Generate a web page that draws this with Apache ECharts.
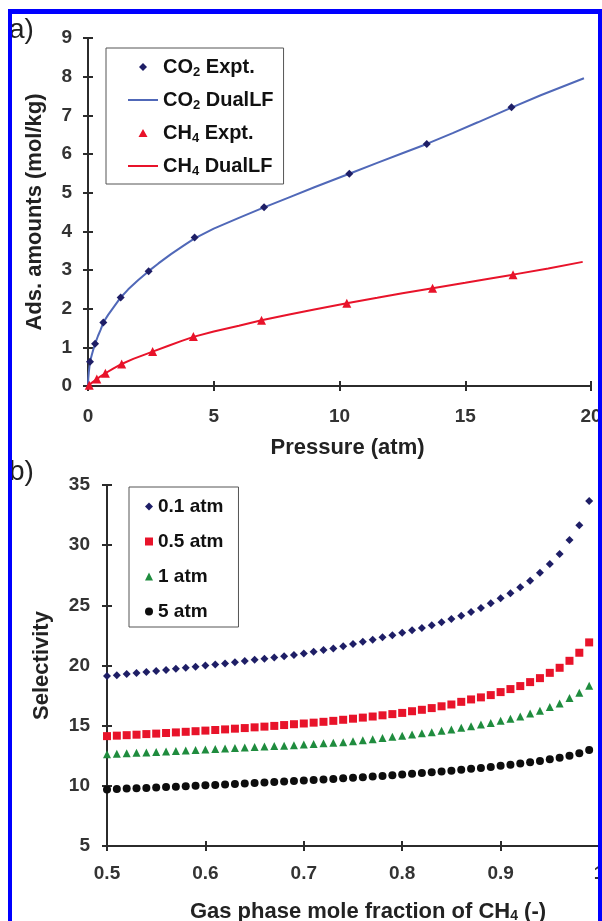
<!DOCTYPE html>
<html>
<head>
<meta charset="utf-8">
<script src="https://cdn.jsdelivr.net/npm/echarts@6/dist/echarts.min.js"></script>
<style>
html,body{margin:0;padding:0;background:#fff;}
#chart{width:602px;height:921px;}
</style>
</head>
<body>
<div id="chart"></div>
<script>
// ---------- Panel a data ----------
const co2ExptP = [0.08, 0.28, 0.61, 1.3, 2.41, 4.24, 7.0, 10.39, 13.47, 16.84];
const co2ExptQ = [0.63, 1.09, 1.64, 2.29, 2.97, 3.84, 4.62, 5.49, 6.26, 7.21];
const co2FitP = [0, 0.01, 0.03, 0.06, 0.1, 0.15, 0.2, 0.28, 0.4, 0.5, 0.61, 0.8, 1.0, 1.3, 1.6, 2.0, 2.41, 2.8, 3.3, 3.8, 4.24, 5, 6, 7, 8, 9, 10.39, 11.5, 12.5, 13.47, 14.5, 15.5, 16.84, 18, 19.72];
const co2FitQ = [0, 0.18, 0.34, 0.52, 0.68, 0.8, 0.92, 1.09, 1.3, 1.45, 1.64, 1.84, 2.02, 2.29, 2.5, 2.74, 2.97, 3.17, 3.41, 3.63, 3.82, 4.07, 4.35, 4.62, 4.88, 5.14, 5.49, 5.77, 6.02, 6.26, 6.54, 6.82, 7.2, 7.52, 7.96];
const ch4ExptP = [0.05, 0.35, 0.69, 1.34, 2.57, 4.19, 6.9, 10.29, 13.7, 16.9];
const ch4ExptQ = [0.02, 0.18, 0.33, 0.57, 0.89, 1.28, 1.70, 2.14, 2.53, 2.88];
const ch4FitP = [0, 0.1, 0.2, 0.35, 0.5, 0.69, 1.0, 1.34, 1.8, 2.2, 2.57, 3.2, 3.7, 4.19, 5, 6, 6.9, 8, 9, 10.29, 11.5, 12.5, 13.7, 15, 16, 16.9, 18.3, 19.67];
const ch4FitQ = [0, 0.055, 0.11, 0.18, 0.25, 0.33, 0.45, 0.57, 0.7, 0.8, 0.89, 1.04, 1.16, 1.27, 1.41, 1.56, 1.70, 1.85, 1.98, 2.14, 2.28, 2.4, 2.53, 2.67, 2.78, 2.88, 3.04, 3.21];

// ---------- Panel b data ----------
const moleFraction = [0.50,0.51,0.52,0.53,0.54,0.55,0.56,0.57,0.58,0.59,
  0.60,0.61,0.62,0.63,0.64,0.65,0.66,0.67,0.68,0.69,
  0.70,0.71,0.72,0.73,0.74,0.75,0.76,0.77,0.78,0.79,
  0.80,0.81,0.82,0.83,0.84,0.85,0.86,0.87,0.88,0.89,
  0.90,0.91,0.92,0.93,0.94,0.95,0.96,0.97,0.98,0.99];
const sel01 = [19.12,19.2,19.29,19.37,19.46,19.55,19.63,19.72,19.81,19.9,
  19.99,20.08,20.17,20.27,20.37,20.47,20.57,20.67,20.77,20.88,
  21.0,21.14,21.28,21.42,21.6,21.78,21.97,22.15,22.35,22.52,
  22.72,22.92,23.12,23.34,23.59,23.86,24.14,24.44,24.78,25.17,
  25.58,26.0,26.5,27.05,27.71,28.44,29.27,30.43,31.65,33.68];
const sel05 = [14.13,14.17,14.21,14.25,14.3,14.34,14.39,14.44,14.49,14.54,
  14.59,14.64,14.69,14.75,14.8,14.86,14.92,14.98,15.05,15.12,
  15.18,15.25,15.32,15.4,15.49,15.58,15.67,15.76,15.86,15.96,
  16.06,16.2,16.32,16.46,16.61,16.76,16.98,17.18,17.35,17.54,
  17.79,18.04,18.29,18.62,18.95,19.39,19.81,20.39,21.06,21.92];
const sel1 = [12.62,12.66,12.7,12.74,12.78,12.82,12.86,12.9,12.94,12.98,
  13.02,13.06,13.1,13.14,13.18,13.22,13.26,13.3,13.34,13.38,
  13.43,13.48,13.53,13.58,13.63,13.71,13.79,13.88,13.97,14.07,
  14.16,14.26,14.36,14.46,14.57,14.68,14.82,14.96,15.1,15.23,
  15.4,15.57,15.77,16.01,16.23,16.56,16.85,17.29,17.73,18.31];
const sel5 = [9.7,9.73,9.77,9.8,9.83,9.86,9.9,9.93,9.97,10.0,
  10.04,10.07,10.11,10.15,10.19,10.23,10.27,10.31,10.35,10.4,
  10.44,10.48,10.53,10.57,10.62,10.67,10.72,10.77,10.82,10.88,
  10.94,11.0,11.06,11.12,11.19,11.26,11.33,11.41,11.49,11.57,
  11.66,11.75,11.85,11.96,12.07,12.2,12.34,12.5,12.7,12.97];

const pair = (xs, ys) => xs.map((x, i) => [x, ys[i]]);

const FONT = "'Liberation Sans', Arial, sans-serif";
const AX = '#2b2b2b';
const LBL = '#333';
const NAVY = '#1e1e66', RED = '#e8132a', GREEN = '#1f8c3e', BLACK = '#0d0d0d', LBLUE = '#5068b8';

function mainAxis(gridIndex, pos, min, max, interval, margin, name, nameGap, namePad) {
  const a = {
    type: 'value', gridIndex, position: pos, min, max, interval,
    axisLine: { show: true, onZero: false, lineStyle: { color: AX, width: 2 } },
    axisTick: { show: true, inside: false, length: 5, lineStyle: { color: AX, width: 2 } },
    axisLabel: { color: LBL, fontFamily: FONT, fontWeight: 'bold', fontSize: 19, margin },
    splitLine: { show: false },
    name, nameLocation: 'middle', nameGap,
    nameTextStyle: {
      color: '#222', fontFamily: FONT, fontWeight: 'bold', fontSize: 22, padding: namePad,
      rich: { s: { color: '#222', fontFamily: FONT, fontWeight: 'bold', fontSize: 14, verticalAlign: 'bottom', lineHeight: 14 } }
    }
  };
  if (pos === 'left') a.nameRotate = 90;
  return a;
}
function innerAxis(gridIndex, pos, min, max, interval) {
  return {
    type: 'value', gridIndex, position: pos, min, max, interval,
    axisLine: { show: false, onZero: false },
    axisTick: { show: true, inside: true, length: 5, lineStyle: { color: AX, width: 2 } },
    axisLabel: { show: false },
    splitLine: { show: false }
  };
}

const richLegend = {
  n: { fontSize: 20, fontWeight: 'bold', fontFamily: FONT, color: '#111', lineHeight: 24 },
  s: { fontSize: 13, fontWeight: 'bold', fontFamily: FONT, color: '#111', lineHeight: 14, verticalAlign: 'bottom' }
};

const ICON_DIAMOND = 'path://M4,0 L8,4 L4,8 L0,4 Z';
const ICON_TRIANGLE = 'path://M4.5,0 L9,8 L0,8 Z';
const ICON_LINE = 'path://M0,0 L30,0 L30,2 L0,2 Z';

const option = {
  animation: false,
  backgroundColor: '#fff',
  grid: [
    { left: 88, top: 38, width: 503, height: 348, containLabel: false, outerBoundsMode: 'none' },
    { left: 107, top: 485, width: 492, height: 361, containLabel: false, outerBoundsMode: 'none' }
  ],
  xAxis: [
    mainAxis(0, 'bottom', 0, 20, 5, 21, 'Pressure (atm)', 51, [0, 0, 0, 16]),
    innerAxis(0, 'bottom', 0, 20, 5),
    mainAxis(1, 'bottom', 0.5, 1, 0.1, 18, 'Gas phase mole fraction of CH{s|4} (-)', 55, [0, 0, 0, 30]),
    innerAxis(1, 'bottom', 0.5, 1, 0.1)
  ],
  yAxis: [
    mainAxis(0, 'left', 0, 9, 1, 16, 'Ads. amounts (mol/kg)', 42, 0),
    innerAxis(0, 'left', 0, 9, 1),
    mainAxis(1, 'left', 5, 35, 5, 17, 'Selectivity', 54, 0),
    innerAxis(1, 'left', 5, 35, 5)
  ],
  legend: [
    {
      data: [
        { name: 'CO2 Expt.', icon: ICON_DIAMOND, itemStyle: { color: NAVY } },
        { name: 'CO2 DualLF', icon: ICON_LINE, itemStyle: { color: LBLUE } },
        { name: 'CH4 Expt.', icon: ICON_TRIANGLE, itemStyle: { color: RED } },
        { name: 'CH4 DualLF', icon: ICON_LINE, itemStyle: { color: RED } }
      ],
      orient: 'vertical', left: 106, top: 48,
      padding: [9, 10, 6, 22],
      itemWidth: 30, itemHeight: 8, itemGap: 11,
      symbolKeepAspect: true,
      borderColor: '#555', borderWidth: 1,
      formatter: name => {
        const m = name.match(/^(C[OH])(\d)(.*)$/);
        return '{n|' + m[1] + '}{s|' + m[2] + '}{n|' + m[3] + '}';
      },
      textStyle: { fontFamily: FONT, fontSize: 20, fontWeight: 'bold', color: '#111', rich: richLegend }
    },
    {
      data: ['0.1 atm', '0.5 atm', '1 atm', '5 atm'],
      orient: 'vertical', left: 129, top: 487,
      padding: [10, 15, 6, 16],
      itemWidth: 8, itemHeight: 8, itemGap: 16,
      symbolKeepAspect: true,
      borderColor: '#555', borderWidth: 1,
      textStyle: { fontFamily: FONT, fontSize: 19, fontWeight: 'bold', color: '#111' }
    }
  ],
  series: [
    { name: 'CO2 Expt.', type: 'scatter', xAxisIndex: 0, yAxisIndex: 0, symbol: 'diamond', symbolSize: 8,
      itemStyle: { color: NAVY, opacity: 1 }, z: 5, data: pair(co2ExptP, co2ExptQ) },
    { name: 'CO2 DualLF', type: 'line', xAxisIndex: 0, yAxisIndex: 0, symbol: 'none', smooth: false,
      lineStyle: { color: LBLUE, width: 2 }, itemStyle: { color: LBLUE }, z: 3, data: pair(co2FitP, co2FitQ) },
    { name: 'CH4 Expt.', type: 'scatter', xAxisIndex: 0, yAxisIndex: 0, symbol: 'triangle', symbolSize: 9,
      itemStyle: { color: RED, opacity: 1 }, z: 5, data: pair(ch4ExptP, ch4ExptQ) },
    { name: 'CH4 DualLF', type: 'line', xAxisIndex: 0, yAxisIndex: 0, symbol: 'none', smooth: false,
      lineStyle: { color: RED, width: 2 }, itemStyle: { color: RED }, z: 3, data: pair(ch4FitP, ch4FitQ) },

    { name: '0.1 atm', type: 'scatter', xAxisIndex: 2, yAxisIndex: 2, symbol: 'diamond', symbolSize: 8,
      itemStyle: { color: NAVY, opacity: 1 }, data: pair(moleFraction, sel01) },
    { name: '0.5 atm', type: 'scatter', xAxisIndex: 2, yAxisIndex: 2, symbol: 'rect', symbolSize: 8,
      itemStyle: { color: RED, opacity: 1 }, data: pair(moleFraction, sel05) },
    { name: '1 atm', type: 'scatter', xAxisIndex: 2, yAxisIndex: 2, symbol: 'triangle', symbolSize: 8,
      itemStyle: { color: GREEN, opacity: 1 }, data: pair(moleFraction, sel1) },
    { name: '5 atm', type: 'scatter', xAxisIndex: 2, yAxisIndex: 2, symbol: 'circle', symbolSize: 8,
      itemStyle: { color: BLACK, opacity: 1 }, data: pair(moleFraction, sel5) }
  ],
  graphic: [
    { type: 'text', left: 9, top: 16, z: 50, style: { text: 'a)', fontFamily: FONT, fontSize: 28, fill: '#222' } },
    { type: 'text', left: 9, top: 458, z: 50, style: { text: 'b)', fontFamily: FONT, fontSize: 28, fill: '#222' } },
    { type: 'rect', left: 8, top: 9, z: 100, shape: { width: 4, height: 912 }, style: { fill: '#0000ff' } },
    { type: 'rect', left: 8, top: 9, z: 100, shape: { width: 594, height: 5 }, style: { fill: '#0000ff' } },
    { type: 'rect', left: 598, top: 9, z: 100, shape: { width: 4, height: 912 }, style: { fill: '#0000ff' } }
  ]
};

const chart = echarts.init(document.getElementById('chart'), null, { renderer: 'canvas' });
chart.setOption(option);
</script>
</body>
</html>
